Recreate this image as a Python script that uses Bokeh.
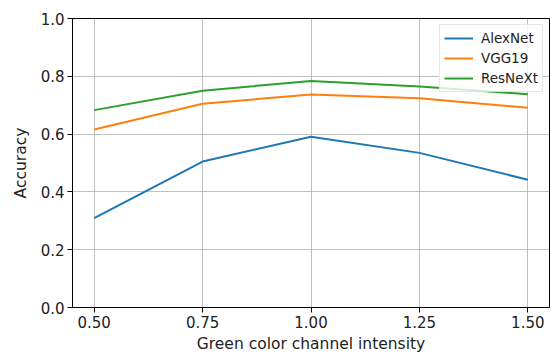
from bokeh.plotting import figure
from bokeh.models import Range1d, FixedTicker, PrintfTickFormatter, Legend, LegendItem
from bokeh.embed import file_html
from bokeh.resources import INLINE

intensity = [0.50, 0.75, 1.00, 1.25, 1.50]
alexnet = [0.309, 0.505, 0.591, 0.535, 0.442]
vgg19 = [0.616, 0.705, 0.737, 0.724, 0.691]
resnext = [0.683, 0.750, 0.784, 0.765, 0.738]
series_names = ["AlexNet", "VGG19", "ResNeXt"]
colors = ["#1f77b4", "#ff7f0e", "#2ca02c"]
x_ticks = [0.50, 0.75, 1.00, 1.25, 1.50]
y_ticks = [0.0, 0.2, 0.4, 0.6, 0.8, 1.0]

FONT = "DejaVu Sans"

p = figure(width=551, height=358, output_backend="svg", toolbar_location=None,
           x_range=Range1d(0.45, 1.55), y_range=Range1d(0.0, 1.0),
           min_border_left=72, min_border_right=2, min_border_top=18, min_border_bottom=51)

renderers = []
for ys, c in zip([alexnet, vgg19, resnext], colors):
    r = p.line(intensity, ys, line_color=c, line_width=2)
    renderers.append(r)

legend = Legend(items=[LegendItem(label=n, renderers=[r]) for n, r in zip(series_names, renderers)],
                location="top_right")
legend.margin = 6
legend.padding = 4
legend.spacing = 2
legend.glyph_width = 29
legend.glyph_height = 18
legend.label_height = 18
legend.label_standoff = 8
legend.label_text_font = FONT
legend.label_text_font_size = "13.5px"
legend.label_text_color = "#222222"
legend.border_line_color = "#cccccc"
legend.border_line_width = 1
legend.background_fill_alpha = 0.8
p.add_layout(legend, "center")

p.outline_line_color = "black"
p.outline_line_width = 1
p.outline_line_alpha = 1.0
p.background_fill_color = "white"
p.border_fill_color = "white"

for ax in (p.xaxis[0], p.yaxis[0]):
    ax.axis_line_color = "black"
    ax.major_tick_line_color = "black"
    ax.major_tick_out = 5
    ax.major_tick_in = 0
    ax.minor_tick_line_color = None
    ax.major_label_text_font = FONT
    ax.major_label_text_font_size = "15px"
    ax.major_label_text_color = "#222222"
    ax.axis_label_text_font = FONT
    ax.axis_label_text_font_size = "15.5px"
    ax.axis_label_text_font_style = "normal"
    ax.axis_label_text_color = "#222222"
    ax.major_label_standoff = 3

p.xaxis[0].ticker = FixedTicker(ticks=x_ticks)
p.xaxis[0].formatter = PrintfTickFormatter(format="%.2f")
p.xaxis[0].axis_label = "Green color channel intensity"
p.xaxis[0].axis_label_standoff = 4
p.yaxis[0].ticker = FixedTicker(ticks=y_ticks)
p.yaxis[0].formatter = PrintfTickFormatter(format="%.1f")
p.yaxis[0].axis_label = "Accuracy"
p.yaxis[0].axis_label_standoff = 8

p.xgrid[0].ticker = FixedTicker(ticks=x_ticks)
p.ygrid[0].ticker = FixedTicker(ticks=y_ticks)
for g in (p.xgrid[0], p.ygrid[0]):
    g.grid_line_color = "#b0b0b0"
    g.grid_line_alpha = 0.8
    g.grid_line_width = 1

open("out.html", "w").write(file_html(p, INLINE))
